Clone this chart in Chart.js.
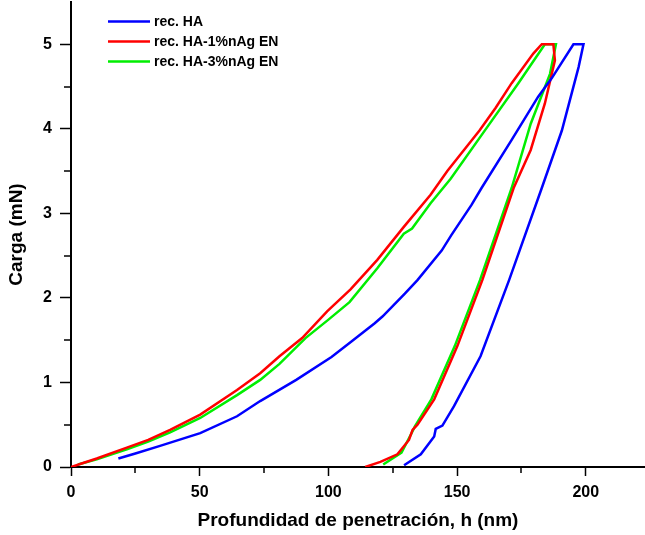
<!DOCTYPE html>
<html>
<head>
<meta charset="utf-8">
<script src="https://cdn.jsdelivr.net/npm/chart.js@4"></script>
<style>
	html, body { margin: 0; padding: 0; background: #fff; }
	canvas { display: block; }
</style>
</head>
<body>
<canvas id="myChart" width="645" height="535"></canvas>
<script>
// curvas carga / descarga (h en nm, carga en mN)
const haX = [18.4, 25, 34.6, 50.2, 64.5, 73.5, 87.5, 101.2, 109.2, 118, 121, 129.7, 134.6, 144, 147.7, 155.6, 159.5, 171.2, 181.5, 186.8, 195.2, 199.1,
	197.2, 190.7, 182.9, 170.2, 159.1, 148.8, 144.3, 141.7, 141.1, 135.9, 129.4];
const haY = [0.1, 0.16, 0.25, 0.4, 0.6, 0.78, 1.03, 1.3, 1.49, 1.7, 1.78, 2.05, 2.21, 2.56, 2.74, 3.1, 3.3, 3.87, 4.38, 4.6, 5.0, 5.0,
	4.73, 3.98, 3.3, 2.21, 1.31, 0.72, 0.49, 0.45, 0.36, 0.15, 0.02];

const ag1X = [0, 5, 10, 21.7, 30, 38.5, 50.2, 64.5, 73.5, 81, 89.8, 99.5, 108.6, 119, 129.3, 139.7, 146.2, 158.7, 165, 171.2, 179.6, 182.9, 187.4,
	188, 184.1, 178.6, 172.1, 159.8, 150.1, 141.1, 134.6, 132.7, 131.3, 126.8, 120.2, 114.3];
const ag1Y = [0, 0.05, 0.1, 0.23, 0.32, 0.44, 0.62, 0.91, 1.11, 1.31, 1.525, 1.84, 2.1, 2.45, 2.84, 3.22, 3.5, 3.98, 4.25, 4.54, 4.89, 5.0, 5.0,
	4.81, 4.3, 3.75, 3.31, 2.21, 1.43, 0.8, 0.5, 0.44, 0.32, 0.15, 0.06, 0];

const ag3X = [2.7, 10, 21.7, 30, 38.5, 50.2, 64.5, 73.5, 81, 91.1, 99.9, 108.2, 119, 129.3, 132.5, 139.7, 147.5, 161.7, 173.8, 184.1, 188.4,
	186.1, 178.6, 171.2, 158.9, 149.1, 140, 133.6, 132.3, 128.4, 121.3];
const ag3Y = [0.03, 0.09, 0.21, 0.3, 0.41, 0.58, 0.85, 1.03, 1.22, 1.525, 1.74, 1.95, 2.35, 2.76, 2.82, 3.12, 3.41, 4.02, 4.54, 5.0, 5.0,
	4.65, 4.06, 3.3, 2.21, 1.43, 0.8, 0.48, 0.4, 0.17, 0.03];

const etiquetas = ['rec. HA', 'rec. HA-1%nAg EN', 'rec. HA-3%nAg EN'];
const colores = ['#0000ff', '#ff0000', '#00ee00'];

const xMayores = [0, 50, 100, 150, 200];
const xMenores = [25, 75, 125, 175];
const yMayores = [0, 1, 2, 3, 4, 5];
const yMenores = [0.5, 1.5, 2.5, 3.5, 4.5];

const puntos = (xs, ys) => xs.map((x, i) => ({ x: x, y: ys[i] }));

const fuente = '"Liberation Sans", Arial, sans-serif';

// leyenda dentro del area del grafico
const leyenda = {
	id: 'leyenda',
	afterDatasetsDraw(chart) {
		const ctx = chart.ctx;
		ctx.save();
		chart.data.datasets.forEach((ds, i) => {
			const y = 21.5 + i * 20;
			ctx.strokeStyle = ds.borderColor;
			ctx.lineWidth = 2.5;
			ctx.beginPath();
			ctx.moveTo(108, y);
			ctx.lineTo(150, y);
			ctx.stroke();
			ctx.fillStyle = '#000';
			ctx.font = 'bold 14px ' + fuente;
			ctx.textBaseline = 'middle';
			ctx.fillText(ds.label, 154, y + 0.5);
		});
		ctx.restore();
	},
};

// marcas menores de los ejes
const marcasMenores = {
	id: 'marcasMenores',
	afterDraw(chart) {
		const ctx = chart.ctx;
		const xs = chart.scales.x;
		const ys = chart.scales.y;
		ctx.save();
		ctx.strokeStyle = '#000';
		ctx.lineWidth = 1.5;
		ctx.beginPath();
		xMenores.forEach((v) => {
			const px = Math.round(xs.getPixelForValue(v));
			ctx.moveTo(px, ys.bottom);
			ctx.lineTo(px, ys.bottom + 6);
		});
		yMenores.forEach((v) => {
			const py = Math.round(ys.getPixelForValue(v));
			ctx.moveTo(xs.left, py);
			ctx.lineTo(xs.left - 7, py);
		});
		ctx.stroke();
		ctx.restore();
	},
};

const sinMargen = (s) => {
	s.paddingTop = 0;
	s.paddingBottom = 0;
	s.paddingLeft = 0;
	s.paddingRight = 0;
};

const config = {
	type: 'scatter',
	data: {
		datasets: [
			{ label: etiquetas[0], data: puntos(haX, haY), borderColor: colores[0], backgroundColor: colores[0] },
			{ label: etiquetas[1], data: puntos(ag1X, ag1Y), borderColor: colores[1], backgroundColor: colores[1] },
			{ label: etiquetas[2], data: puntos(ag3X, ag3Y), borderColor: colores[2], backgroundColor: colores[2] },
		].map((d) => Object.assign(d, { showLine: true, borderWidth: 2.5, pointRadius: 0, tension: 0, fill: false })),
	},
	options: {
		responsive: false,
		animation: false,
		devicePixelRatio: 1,
		layout: { padding: { top: 2, right: 0, left: 0, bottom: 0 } },
		plugins: { legend: { display: false }, tooltip: { enabled: false } },
		scales: {
			x: {
				type: 'linear',
				min: 0,
				max: 223,
				afterBuildTicks: (s) => { s.ticks = xMayores.map((v) => ({ value: v })); },
				afterFit: (s) => { s.height = 68; sinMargen(s); },
				ticks: { color: '#000', font: { family: fuente, size: 16, weight: 'bold' }, padding: 7, maxRotation: 0 },
				grid: { drawOnChartArea: false, drawTicks: true, tickLength: 9, tickColor: '#000', tickWidth: 1.5 },
				border: { color: '#000', width: 2 },
				title: {
					display: true,
					text: 'Profundidad de penetración, h (nm)',
					color: '#000',
					font: { family: fuente, size: 19, weight: 'bold' },
					padding: { top: 0, bottom: 3 },
				},
			},
			y: {
				type: 'linear',
				min: 0,
				max: 5.5,
				afterBuildTicks: (s) => { s.ticks = yMayores.map((v) => ({ value: v })); },
				afterFit: (s) => { s.width = 71; sinMargen(s); },
				ticks: { color: '#000', font: { family: fuente, size: 16, weight: 'bold' }, padding: 8 },
				grid: { drawOnChartArea: false, drawTicks: true, tickLength: 11, tickColor: '#000', tickWidth: 1.5 },
				border: { color: '#000', width: 2 },
				title: {
					display: true,
					text: 'Carga (mN)',
					color: '#000',
					font: { family: fuente, size: 19, weight: 'bold' },
					padding: { top: 5, bottom: 0 },
				},
			},
		},
	},
	plugins: [leyenda, marcasMenores],
};

const myChart = new Chart(document.getElementById('myChart'), config);
</script>
</body>
</html>
